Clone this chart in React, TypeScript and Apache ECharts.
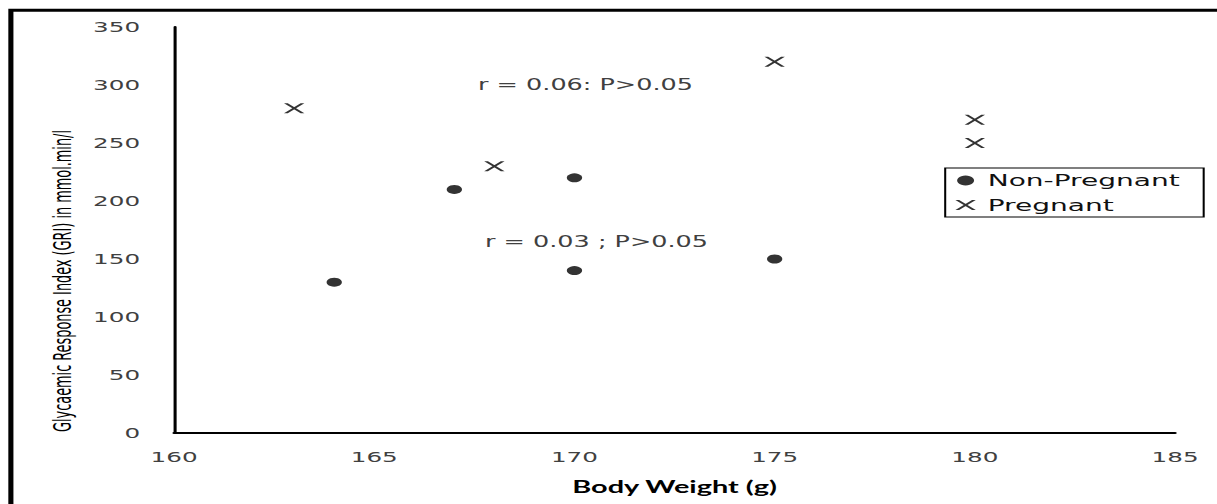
import React, { useEffect, useRef } from "react";
import * as echarts from "echarts";

// ---- data ----
const nonPregnantWeight = [164, 167, 170, 170, 175];
const nonPregnantGRI = [130, 210, 220, 140, 150];
const pregnantWeight = [163, 168, 175, 180, 180];
const pregnantGRI = [280, 230, 320, 270, 250];

const seriesNames = ["Non-Pregnant", "Pregnant"];
const xAxisTitle = "Body Weight (g)";
const yAxisTitle = "Glycaemic Response Index (GRI) in mmol.min/l";
const annotations = ["r = 0.06: P>0.05", "r = 0.03 ; P>0.05"];

const xMin = 160;
const xMax = 185;
const xStep = 5;
const yMin = 0;
const yMax = 350;
const yStep = 50;

// The reference is horizontally stretched; reproduce with a CSS scaleX.
const STRETCH = 1.7;
const PAGE_W = 1217;
const PAGE_H = 504;

const xSymbol =
  "path://M0,0L2.2,0L12,10L9.8,10ZM9.8,0L12,0L2.2,10L0,10Z";

export default function App() {
  const ref = useRef<HTMLDivElement>(null);

  useEffect(() => {
    if (!ref.current) return;
    const chart = echarts.init(ref.current, null, { renderer: "svg" });
    const tickColor = "#404040";
    chart.setOption({
      animation: false,
      backgroundColor: "#ffffff",
      grid: { left: 102.4, right: 24.8, top: 27, bottom: 71, containLabel: false },
      xAxis: {
        type: "value",
        min: xMin,
        max: xMax,
        interval: xStep,
        name: xAxisTitle,
        nameLocation: "middle",
        nameGap: 45,
        nameTextStyle: {
          fontFamily: "Lato",
          fontWeight: "bold",
          fontSize: 17,
          color: "#000",
        },
        axisLine: { show: true, onZero: false, lineStyle: { color: "#000", width: 2 } },
        axisTick: { show: false },
        splitLine: { show: false },
        axisLabel: {
          margin: 16,
          fontFamily: "DejaVu Sans",
          fontSize: 14.5,
          color: tickColor,
        },
      },
      yAxis: {
        type: "value",
        min: yMin,
        max: yMax,
        interval: yStep,
        axisLine: { show: true, onZero: false, lineStyle: { color: "#000", width: 1.8 } },
        axisTick: { show: false },
        splitLine: { show: false },
        axisLabel: {
          margin: 20,
          fontFamily: "DejaVu Sans",
          fontSize: 14.5,
          color: tickColor,
        },
      },
      legend: {
        orient: "vertical",
        left: 556,
        top: 168,
        padding: [4, 14, 3.5, 6],
        itemGap: 7.5,
        itemWidth: 16,
        itemHeight: 10,
        borderColor: "#000",
        borderWidth: 1.2,
        borderRadius: 0,
        textStyle: {
          fontFamily: "DejaVu Sans",
          fontSize: 16.5,
          color: "#111",
        },
        data: [
          { name: seriesNames[0], icon: "circle" },
          { name: seriesNames[1], icon: xSymbol },
        ],
      },
      graphic: [
        {
          type: "rect",
          shape: { x: 6.4, y: 10.3, width: 2000, height: 2000 },
          style: { fill: "none", stroke: "#000", lineWidth: 3 },
          silent: true,
          z: 100,
        },
        {
          type: "text",
          left: 281.2,
          top: 77,
          style: {
            text: annotations[0],
            fontFamily: "DejaVu Sans",
            fontSize: 15,
            fill: tickColor,
          },
        },
        {
          type: "text",
          left: 285.3,
          top: 234.5,
          style: {
            text: annotations[1],
            fontFamily: "DejaVu Sans",
            fontSize: 15,
            fill: tickColor,
          },
        },
        {
          type: "text",
          x: 36.5,
          y: 281,
          rotation: Math.PI / 2,
          style: {
            text: yAxisTitle,
            fontFamily: "'Liberation Sans Narrow', 'DejaVu Sans Condensed', sans-serif",
            fontSize: 14.3,
            fill: "#000",
            align: "center",
            verticalAlign: "middle",
          },
        },
      ],
      series: [
        {
          name: seriesNames[0],
          type: "scatter",
          symbol: "circle",
          symbolSize: 9,
          itemStyle: { color: "#000" },
          data: nonPregnantWeight.map((w, i) => [w, nonPregnantGRI[i]]),
        },
        {
          name: seriesNames[1],
          type: "scatter",
          symbol: xSymbol,
          symbolSize: [12, 10],
          itemStyle: { color: "#000" },
          data: pregnantWeight.map((w, i) => [w, pregnantGRI[i]]),
        },
      ],
    });
    return () => chart.dispose();
  }, []);

  return (
    <div
      style={{
        position: "fixed",
        left: 0,
        top: 0,
        width: PAGE_W,
        height: PAGE_H,
        overflow: "hidden",
        background: "#fff",
      }}
    >
      <div
        ref={ref}
        style={{
          width: PAGE_W / STRETCH,
          height: PAGE_H,
          transform: `scaleX(${STRETCH})`,
          transformOrigin: "0 0",
        }}
      />
    </div>
  );
}
